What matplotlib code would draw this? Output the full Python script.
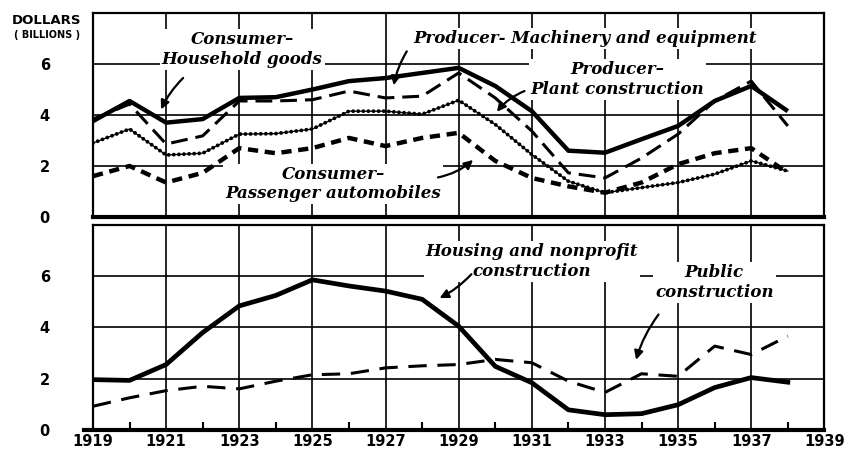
import numpy as np
import matplotlib.pyplot as plt

# years 1919-1938
years = np.arange(1919, 1939)

# top panel: consumer / producer durables (billions of dollars)
household_goods = [3.76, 4.55, 3.70, 3.84, 4.67, 4.70, 5.00, 5.33, 5.45, 5.65,
                   5.85, 5.14, 4.15, 2.60, 2.52, 3.05, 3.57, 4.55, 5.14, 4.15]
machinery = [3.84, 4.43, 2.86, 3.18, 4.55, 4.55, 4.60, 4.94, 4.67, 4.74,
             5.65, 4.67, 3.37, 1.73, 1.53, 2.31, 3.25, 4.55, 5.33, 3.57]
plant = [2.90, 3.45, 2.43, 2.50, 3.25, 3.27, 3.45, 4.15, 4.15, 4.03,
         4.58, 3.63, 2.45, 1.40, 0.95, 1.15, 1.35, 1.68, 2.20, 1.80]
automobiles = [1.60, 2.00, 1.35, 1.73, 2.70, 2.50, 2.70, 3.10, 2.78, 3.10,
               3.30, 2.20, 1.53, 1.20, 0.95, 1.35, 2.07, 2.50, 2.70, 1.73]

# bottom panel: construction
housing = [1.96, 1.93, 2.55, 3.80, 4.84, 5.25, 5.86, 5.62, 5.42, 5.10,
           4.05, 2.48, 1.84, 0.78, 0.59, 0.63, 0.98, 1.65, 2.04, 1.86]
public = [0.92, 1.25, 1.53, 1.70, 1.60, 1.90, 2.15, 2.19, 2.42, 2.50,
          2.55, 2.75, 2.62, 1.90, 1.46, 2.19, 2.09, 3.27, 2.94, 3.66]

year_labels = [str(y) for y in range(1919, 1940, 2)]
value_ticks = [0, 2, 4, 6]

fig = plt.figure(figsize=(8.49, 4.51), dpi=100)
ax1 = fig.add_axes([0.1095, 0.519, 0.8615, 0.452])
ax2 = fig.add_axes([0.1095, 0.047, 0.8615, 0.454])

lab_font = dict(family='DejaVu Serif', weight='bold', style='italic', size=12)
bg = dict(facecolor='white', edgecolor='none', pad=1.5)
tick_font = dict(family='DejaVu Sans', weight='bold', size=10.5)


def setup(ax):
    ax.set_xlim(1919, 1939)
    ax.set_ylim(0, 8)
    for x in range(1921, 1939, 2):
        ax.axvline(x, color='black', lw=1.2, zorder=0)
    for y in [2, 4, 6]:
        ax.axhline(y, color='black', lw=1.2, zorder=0)
    for s in ax.spines.values():
        s.set_linewidth(1.6)
    ax.set_yticks(value_ticks)
    ax.set_yticklabels([str(v) for v in value_ticks], **tick_font)
    ax.tick_params(axis='y', length=0, pad=31)


setup(ax1)
ax1.set_xticks([])
ax1.spines['bottom'].set_linewidth(3)

ax1.plot(years, household_goods, color='black', lw=3.2, solid_capstyle='butt', zorder=3)
ax1.plot(years, machinery, color='black', lw=2.2, dashes=(5.5, 2.6), zorder=3)
ax1.plot(years, plant, color='black', lw=0.9, zorder=3)
ax1.plot(years, plant, color='black', lw=2.8, linestyle=(0, (0.01, 1.3)),
         dash_capstyle='round', zorder=3)
ax1.plot(years, automobiles, color='black', lw=3.2, dashes=(2.3, 1.5), zorder=3)

ax1.text(1923.08, 6.57, 'Consumer–\nHousehold goods', ha='center', va='center',
         linespacing=1.2, bbox=bg, zorder=2, **lab_font)
ax1.text(1932.46, 7.02, 'Producer- Machinery and equipment', ha='center', va='center',
         bbox=bg, zorder=2, **lab_font)
ax1.text(1933.34, 5.39, 'Producer–\nPlant construction', ha='center', va='center',
         linespacing=1.2, bbox=bg, zorder=2, **lab_font)
ax1.text(1925.57, 1.29, 'Consumer–\nPassenger automobiles', ha='center', va='center',
         linespacing=1.2, bbox=bg, zorder=2, **lab_font)

arrow = dict(arrowstyle='-|>', color='black', lw=1.6, mutation_scale=13)
ax1.annotate('', xy=(1920.83, 4.12), xytext=(1921.52, 5.53),
             arrowprops=dict(connectionstyle='arc3,rad=0.1', **arrow))
ax1.annotate('', xy=(1927.21, 5.06), xytext=(1927.62, 6.59),
             arrowprops=dict(connectionstyle='arc3,rad=0.1', **arrow))
ax1.annotate('', xy=(1930.0, 4.04), xytext=(1930.87, 4.98),
             arrowprops=dict(connectionstyle='arc3,rad=0.15', **arrow))
ax1.annotate('', xy=(1929.45, 2.31), xytext=(1928.36, 1.53),
             arrowprops=dict(connectionstyle='arc3,rad=0.15', **arrow))

setup(ax2)
ax2.spines['bottom'].set_visible(False)
ax2.axhline(0, xmin=-0.012, xmax=1.0, color='black', lw=3, clip_on=False, zorder=4)
ax2.set_xticks(range(1919, 1940, 2))
ax2.set_xticklabels(year_labels, **tick_font)
ax2.set_xticks(range(1920, 1939, 2), minor=True)
ax2.tick_params(axis='x', which='major', length=0, pad=3)
ax2.tick_params(axis='x', which='minor', direction='in', length=6, width=1.5)

ax2.plot(years, housing, color='black', lw=3.4, zorder=3)
ax2.plot(years, public, color='black', lw=2.2, dashes=(6, 3.5), zorder=3)

ax2.text(1931.0, 6.57, 'Housing and nonprofit\nconstruction', ha='center', va='center',
         linespacing=1.2, bbox=bg, zorder=2, **lab_font)
ax2.text(1935.99, 5.75, 'Public\nconstruction', ha='center', va='center',
         linespacing=1.2, bbox=bg, zorder=2, **lab_font)
ax2.annotate('', xy=(1928.41, 5.10), xytext=(1929.40, 6.16),
             arrowprops=dict(connectionstyle='arc3,rad=-0.1', **arrow))
ax2.annotate('', xy=(1933.83, 2.63), xytext=(1934.51, 4.59),
             arrowprops=dict(connectionstyle='arc3,rad=0.1', **arrow))

fig.text(0.055, 0.955, 'DOLLARS', ha='center', va='center',
         family='DejaVu Sans', weight='bold', size=9.5)
fig.text(0.055, 0.922, '( BILLIONS )', ha='center', va='center',
         family='DejaVu Sans', weight='bold', size=7)

fig.savefig('out.png', dpi=100)
